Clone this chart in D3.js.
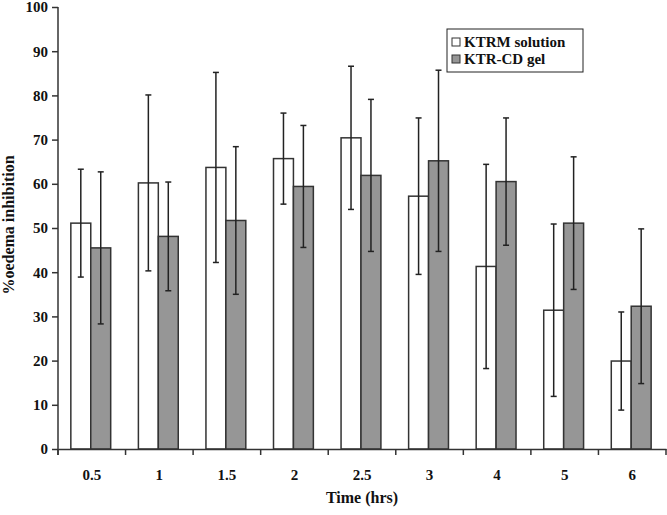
<!DOCTYPE html>
<html>
<head>
<meta charset="utf-8">
<script src="https://cdn.jsdelivr.net/npm/d3@7"></script>
<style>
  body { margin: 0; background: #fff; }
  text { font-family: "Liberation Serif", "DejaVu Serif", serif; font-weight: bold; fill: #111; }
</style>
</head>
<body>
<div id="chart"></div>
<script>
// data
var times = ["0.5", "1", "1.5", "2", "2.5", "3", "4", "5", "6"];
var seriesNames = ["KTRM solution", "KTR-CD gel"];
var solutionMean = [51.1, 60.2, 63.7, 65.7, 70.4, 57.2, 41.3, 31.4, 19.9];
var solutionErr  = [12.2, 19.9, 21.5, 10.3, 16.2, 17.7, 23.1, 19.5, 11.1];
var gelMean = [45.5, 48.1, 51.7, 59.4, 61.9, 65.2, 60.5, 51.1, 32.3];
var gelErr  = [17.2, 12.3, 16.7, 13.8, 17.2, 20.5, 14.4, 15.0, 17.5];
var yTicks = [0, 10, 20, 30, 40, 50, 60, 70, 80, 90, 100];

var colors = ["#ffffff", "#969696"];

var W = 667, H = 515;
var margin = { top: 7, right: 1, bottom: 66, left: 58 },
  width = W - margin.left - margin.right,
  height = H - margin.top - margin.bottom;

var svg = d3.select("#chart")
  .append("svg")
  .attr("width", W)
  .attr("height", H)
  .append("g")
  .attr("transform", "translate(" + margin.left + "," + margin.top + ")");

var x = d3.scaleBand().domain(times).range([0, width]).paddingInner(0).paddingOuter(0);
var x1 = d3.scaleBand().domain([0, 1]).range([x.bandwidth() * 0.19, x.bandwidth() * 0.78]);
var y = d3.scaleLinear().domain([0, 100]).range([height, 0]);

var rows = times.map(function (t, i) {
  return [
    { t: t, s: 0, v: solutionMean[i], e: solutionErr[i] },
    { t: t, s: 1, v: gelMean[i], e: gelErr[i] }
  ];
});

var groups = svg.selectAll(".grp")
  .data(rows)
  .enter()
  .append("g")
  .attr("transform", function (d) { return "translate(" + x(d[0].t) + ",0)"; });

groups.selectAll("rect")
  .data(function (d) { return d; })
  .enter()
  .append("rect")
  .attr("x", function (d) { return x1(d.s); })
  .attr("y", function (d) { return y(d.v); })
  .attr("width", x1.bandwidth())
  .attr("height", function (d) { return y(0) - y(d.v); })
  .style("fill", function (d) { return colors[d.s]; })
  .style("stroke", "#333")
  .style("stroke-width", 1.5);

// error bars
var err = groups.selectAll(".err")
  .data(function (d) { return d; })
  .enter()
  .append("g")
  .attr("class", "err")
  .style("stroke", "#222")
  .style("stroke-width", 1.5);

err.append("line")
  .attr("x1", function (d) { return x1(d.s) + x1.bandwidth() / 2; })
  .attr("x2", function (d) { return x1(d.s) + x1.bandwidth() / 2; })
  .attr("y1", function (d) { return y(d.v + d.e); })
  .attr("y2", function (d) { return y(d.v - d.e); });

[1, -1].forEach(function (sign) {
  err.append("line")
    .attr("x1", function (d) { return x1(d.s) + x1.bandwidth() / 2 - 3; })
    .attr("x2", function (d) { return x1(d.s) + x1.bandwidth() / 2 + 3; })
    .attr("y1", function (d) { return y(d.v + sign * d.e); })
    .attr("y2", function (d) { return y(d.v + sign * d.e); });
});

// y axis
var yAxis = svg.append("g")
  .call(d3.axisLeft(y).tickValues(yTicks).tickSize(6).tickPadding(4));
yAxis.select(".domain").attr("d", "M0,0V" + (height + 6)).style("stroke", "#333").style("stroke-width", 1.5);
yAxis.selectAll(".tick line").style("stroke", "#333").style("stroke-width", 1.5);
yAxis.selectAll("text").style("font-size", "15px").style("font-family", "Liberation Serif").style("font-weight", "bold").attr("fill", "#111");

// x axis with ticks at category boundaries
var xAxis = svg.append("g")
  .attr("transform", "translate(0," + height + ")")
  .call(d3.axisBottom(x).tickSize(0).tickPadding(20));
xAxis.select(".domain").style("stroke", "#333").style("stroke-width", 1.5);
xAxis.selectAll("text").style("font-size", "15px").style("font-family", "Liberation Serif").style("font-weight", "bold").attr("fill", "#111");
xAxis.selectAll(".bound")
  .data(times.concat(["end"]))
  .enter()
  .append("line")
  .attr("x1", function (d, i) { return i * x.step(); })
  .attr("x2", function (d, i) { return i * x.step(); })
  .attr("y1", 0)
  .attr("y2", 6)
  .style("stroke", "#333")
  .style("stroke-width", 1.5);

// axis titles
svg.append("text")
  .attr("x", width / 2)
  .attr("y", height + 54)
  .attr("text-anchor", "middle")
  .style("font-size", "16px")
  .text("Time (hrs)");

svg.append("text")
  .attr("transform", "translate(" + (-44) + "," + 218 + ") rotate(-90)")
  .attr("text-anchor", "middle")
  .style("font-size", "16px")
  .text("%oedema inhibition");

// legend
var legend = svg.append("g").attr("transform", "translate(" + (447 - margin.left) + "," + (29 - margin.top) + ")");
legend.append("rect")
  .attr("width", 136)
  .attr("height", 43)
  .style("fill", "#fff")
  .style("stroke", "#222")
  .style("stroke-width", 1);
seriesNames.forEach(function (name, i) {
  legend.append("rect")
    .attr("x", 5)
    .attr("y", 9 + i * 17)
    .attr("width", 8)
    .attr("height", 8)
    .style("fill", colors[i])
    .style("stroke", "#333")
    .style("stroke-width", 1);
  legend.append("text")
    .attr("x", 17)
    .attr("y", 18 + i * 17)
    .style("font-size", "15px")
    .text(name);
});
</script>
</body>
</html>
